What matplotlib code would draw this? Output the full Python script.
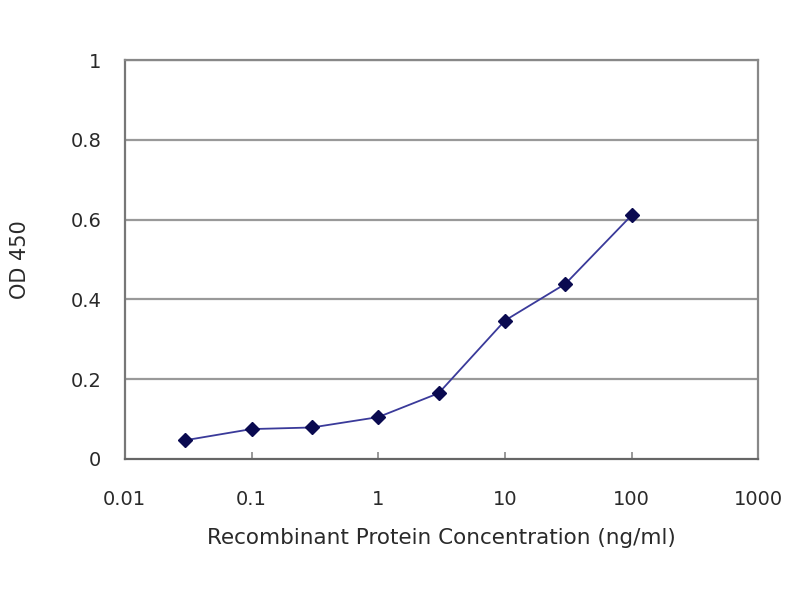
import matplotlib
matplotlib.use('Agg')
import matplotlib.pyplot as plt
from matplotlib.ticker import FixedLocator, FixedFormatter, NullLocator

plt.rcParams['font.family'] = ['DejaVu Sans']

conc = [0.03, 0.1, 0.3, 1, 3, 10, 30, 100]
od450 = [0.047, 0.075, 0.079, 0.105, 0.165, 0.347, 0.439, 0.611]
xticks = [0.01, 0.1, 1, 10, 100, 1000]
xtick_labels = ['0.01', '0.1', '1', '10', '100', '1000']
yticks = [0, 0.2, 0.4, 0.6, 0.8, 1]
ytick_labels = ['0', '0.2', '0.4', '0.6', '0.8', '1']

fig = plt.figure(figsize=(8, 6), dpi=100)
ax = fig.add_axes([0.156, 0.235, 0.792, 0.665])

for y in yticks[1:]:
    ax.axhline(y, color='#999999', lw=1.6, zorder=1)

ax.plot(conc, od450, color='#3a3a9a', lw=1.3, marker='D', ms=7,
        mfc='#0a0a50', mec='#0a0a50', zorder=3)

ax.set_xscale('log')
ax.set_xlim(0.01, 1000)
ax.set_ylim(0, 1)
ax.xaxis.set_major_locator(FixedLocator(xticks))
ax.xaxis.set_major_formatter(FixedFormatter(xtick_labels))
ax.xaxis.set_minor_locator(NullLocator())
ax.yaxis.set_major_locator(FixedLocator(yticks))
ax.yaxis.set_major_formatter(FixedFormatter(ytick_labels))

for s in ax.spines.values():
    s.set_color('#888888')
    s.set_linewidth(1.6)
ax.spines['left'].set_color('#777777')
ax.spines['bottom'].set_color('#666666')

ax.tick_params(axis='x', length=5, width=1.2, color='#888888', direction='in',
               labelsize=14, labelcolor='#2a2a2a', pad=22)
ax.tick_params(axis='y', length=0, labelsize=14, labelcolor='#2a2a2a', pad=17)

ax.set_xlabel('Recombinant Protein Concentration (ng/ml)', fontsize=15.5,
              color='#2a2a2a', labelpad=14)
ax.set_ylabel('OD 450', fontsize=15, color='#2a2a2a', labelpad=29)

fig.savefig('out.png', dpi=100, facecolor='white')
